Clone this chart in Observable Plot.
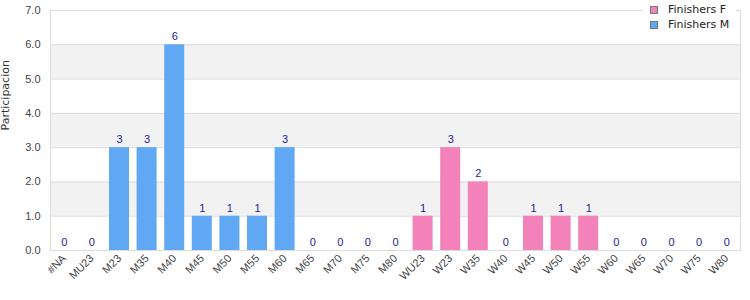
<!DOCTYPE html>
<html><head><meta charset="utf-8">
<script src="https://cdn.jsdelivr.net/npm/d3@7"></script>
<script src="https://cdn.jsdelivr.net/npm/@observablehq/plot@0.6"></script>
<style>
html,body{margin:0;padding:0;background:#fff;overflow:hidden;}
#wrap{position:relative;width:750px;height:300px;}
#chart svg{display:block;max-width:none;}
#legend{position:absolute;left:643px;top:0px;width:93px;background:#fff;font:11px "DejaVu Sans",sans-serif;color:#222;padding:2px 0 2px 0;}
#legend div{display:flex;align-items:center;height:15px;}
#legend span.sw{display:inline-block;width:6px;height:6px;border:1px solid #777;margin-left:7px;margin-right:10px;}
</style></head>
<body><div id="wrap"><div id="chart"></div><div id="legend"></div></div>
<script>
const categories = ["#NA","MU23","M23","M35","M40","M45","M50","M55","M60","M65","M70","M75","M80","WU23","W23","W35","W40","W45","W50","W55","W60","W65","W70","W75","W80"];
const seriesNames = ["Finishers F","Finishers M"];
const seriesColors = ["#f282b9","#60a8f3"];
const maleCats = ["#NA","MU23","M23","M35","M40","M45","M50","M55","M60","M65","M70","M75","M80"];
const maleValues = [0,0,3,3,6,1,1,1,3,0,0,0,0];
const femaleCats = ["WU23","W23","W35","W40","W45","W50","W55","W60","W65","W70","W75","W80"];
const femaleValues = [1,3,2,0,1,1,1,0,0,0,0,0];
const yTicks = [0,1,2,3,4,5,6,7];
const bands = [1,3,5];

const data = [
  ...maleCats.map((c,i)=>({cat:c, value:maleValues[i], series:"Finishers M"})),
  ...femaleCats.map((c,i)=>({cat:c, value:femaleValues[i], series:"Finishers F"}))
];

const chart = Plot.plot({
  width: 750, height: 300,
  marginLeft: 50, marginRight: 10, marginTop: 10, marginBottom: 50,
  style: {fontFamily: '"Liberation Sans", Arial, sans-serif', fontSize: "11px", color: "#444", background: "#fff", maxWidth: "none"},
  x: {domain: categories, paddingInner: 0.275, paddingOuter: 0.1375, round: false, label: null},
  y: {domain: [0,7], label: null},
  color: {domain: seriesNames, range: seriesColors},
  marks: [
    Plot.rect(bands, {y1: d=>d, y2: d=>d+1, fill: "#f2f2f2"}),
    Plot.ruleY(yTicks, {stroke: "#dcdcdc"}),
    Plot.frame({stroke: "#dcdcdc"}),
    Plot.barY(data, {x: "cat", y: "value", fill: "series"}),
    Plot.text(data, {x: "cat", y: "value", text: d=>String(d.value), dy: -8, fill: "#1c1c94", fontSize: 11}),
    Plot.axisY({ticks: yTicks, tickFormat: d=>d.toFixed(1), tickSize: 0, tickPadding: 10, fill: "#444", fontSize: 11, label: null}),
    Plot.axisX({tickRotate: -45, tickSize: 0, tickPadding: 6, fill: "#444", fontSize: 11, label: null}),
    Plot.text(["Participacion"], {frameAnchor: "left", dx: -45, rotate: -90, fill: "#333", fontSize: 11, fontFamily: '"DejaVu Sans", sans-serif'})
  ]
});
document.getElementById("chart").appendChild(chart);

const leg = document.getElementById("legend");
seriesNames.forEach((n,i)=>{
  const row = document.createElement("div");
  const sw = document.createElement("span");
  sw.className = "sw"; sw.style.background = seriesColors[i];
  row.appendChild(sw);
  row.appendChild(document.createTextNode(n));
  leg.appendChild(row);
});
</script></body></html>
